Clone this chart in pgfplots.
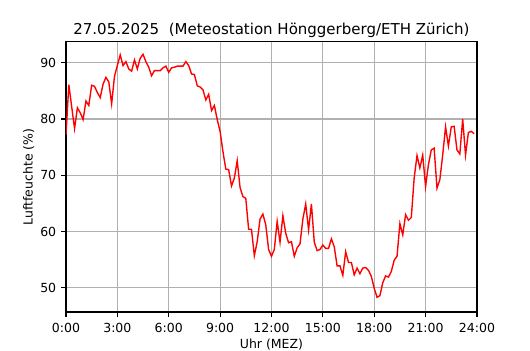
\documentclass[border=0pt]{standalone}
\usepackage{pgfplots}
\pgfplotsset{compat=1.18}
\usepackage{fontspec}
\setmainfont{DejaVu Sans}
\definecolor{gridgray}{HTML}{B0B0B0}
\pgfplotstableread{
h v
0.000 77.2
0.167 86.1
0.333 82.2
0.500 78.3
0.667 82.0
0.833 81.1
1.000 79.9
1.167 83.2
1.333 82.4
1.500 86.0
1.667 85.8
1.833 84.7
2.000 83.8
2.167 86.2
2.333 87.4
2.500 86.6
2.667 82.7
2.833 87.6
3.000 89.5
3.167 91.4
3.333 89.5
3.500 90.2
3.667 88.9
3.833 88.5
4.000 90.5
4.167 88.9
4.333 90.8
4.500 91.5
4.667 90.2
4.833 89.2
5.000 87.7
5.167 88.6
5.333 88.6
5.500 88.6
5.667 89.1
5.833 89.4
6.000 88.3
6.167 89.1
6.333 89.2
6.500 89.4
6.667 89.4
6.833 89.4
7.000 90.2
7.167 89.5
7.333 88.0
7.500 87.9
7.667 85.9
7.833 85.7
8.000 85.2
8.167 83.4
8.333 84.4
8.500 81.5
8.667 82.4
8.833 79.9
9.000 77.8
9.167 74.2
9.333 71.1
9.500 71.0
9.667 68.1
9.833 69.5
10.000 72.6
10.167 67.8
10.333 66.2
10.500 65.9
10.667 60.4
10.833 60.4
11.000 55.7
11.167 58.2
11.333 62.2
11.500 63.1
11.667 61.2
11.833 56.8
12.000 55.6
12.167 56.8
12.333 61.8
12.500 58.1
12.667 62.8
12.833 59.7
13.000 58.0
13.167 58.2
13.333 55.6
13.500 57.1
13.667 57.8
13.833 62.2
14.000 64.9
14.167 60.3
14.333 64.9
14.500 58.1
14.667 56.6
14.833 56.8
15.000 57.6
15.167 57.0
15.333 57.0
15.500 58.7
15.667 57.3
15.833 53.9
16.000 53.9
16.167 52.2
16.333 56.4
16.500 54.5
16.667 54.5
16.833 52.3
17.000 53.5
17.167 52.5
17.333 53.5
17.500 53.6
17.667 53.1
17.833 52.0
18.000 49.9
18.167 48.3
18.333 48.6
18.500 50.9
18.667 52.1
18.833 51.9
19.000 52.9
19.167 54.9
19.333 55.6
19.500 61.4
19.667 59.4
19.833 63.0
20.000 62.0
20.167 62.5
20.333 69.5
20.500 73.5
20.667 71.3
20.833 73.6
21.000 68.0
21.167 71.9
21.333 74.5
21.500 74.8
21.667 67.7
21.833 69.2
22.000 73.6
22.167 78.6
22.333 75.2
22.500 78.6
22.667 78.7
22.833 74.5
23.000 73.8
23.167 80.0
23.333 73.6
23.500 77.6
23.667 77.8
23.833 77.4
}\humid
\begin{document}
\begin{tikzpicture}
\path[use as bounding box] (0,0) rectangle (381.6pt,252pt);
\begin{axis}[
  at={(47.5pt,27.4pt)}, anchor=south west,
  scale only axis, width=295.9pt, height=194.4pt,
  xmin=0, xmax=24, ymin=45.7, ymax=93.7,
  xtick={0,3,...,24},
  xticklabels={0:00,3:00,6:00,9:00,12:00,15:00,18:00,21:00,24:00},
  ytick={50,60,70,80,90},
  grid=major,
  major grid style={gridgray, line width=0.8pt},
  axis line style={black, line width=0.8pt},
  tick align=outside, tick pos=left,
  major tick length=3.5pt,
  tick style={black, line width=0.8pt},
  /pgf/number format/assume math mode=true,
  ticklabel style={font=\fontsize{9}{11}\selectfont},
  xticklabel style={yshift=-1pt},
  xlabel={Uhr (MEZ)}, ylabel={Luftfeuchte (\%)},
  label style={font=\fontsize{9}{11}\selectfont},
  xlabel style={yshift=2pt},
  ylabel style={yshift=-2.5pt},
  title={27.05.2025\ \ (Meteostation Hönggerberg/ETH Zürich)},
  title style={font=\fontsize{10.8}{13}\selectfont, yshift=-6.5pt},
]
\addplot[red, line width=1pt, mark=none] table[x=h, y=v] {\humid};
\end{axis}
\end{tikzpicture}
\end{document}
